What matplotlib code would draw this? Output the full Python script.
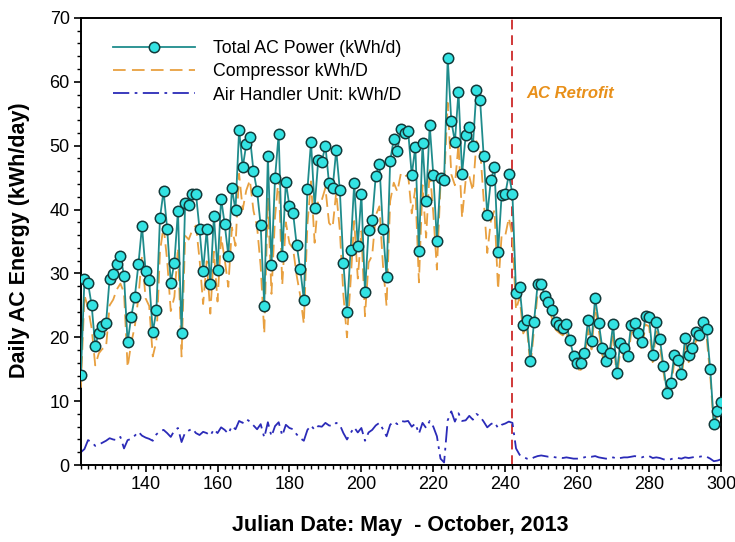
import matplotlib
matplotlib.use("Agg")
import matplotlib.pyplot as plt
from matplotlib.ticker import MultipleLocator

plt.rcParams['font.family'] = ['Liberation Sans', 'DejaVu Sans']

start_day = 122
total_ac = [
    14.1, 29.1, 28.5, 25.0, 18.6, 20.7, 21.7, 22.2, 29.2, 29.9,
    31.4, 32.8, 29.6, 19.2, 23.2, 26.3, 31.4, 37.4, 30.4, 29.0,
    20.8, 24.2, 38.7, 42.9, 37.0, 28.5, 31.7, 39.8, 20.6, 41.0,
    40.7, 42.5, 42.5, 36.9, 30.4, 36.9, 28.3, 39.0, 30.6, 41.7,
    37.7, 32.8, 43.3, 39.9, 52.5, 46.6, 50.2, 51.4, 46.0, 42.9,
    37.5, 24.9, 48.4, 31.3, 45.0, 51.8, 32.8, 44.3, 40.5, 39.5,
    34.5, 30.7, 25.9, 43.2, 50.6, 40.3, 47.7, 47.5, 50.0, 44.1,
    43.3, 49.3, 43.1, 31.6, 24.0, 33.7, 44.1, 34.3, 42.4, 27.1,
    36.8, 38.3, 45.3, 47.1, 36.9, 29.4, 47.6, 51.0, 49.2, 52.6,
    52.0, 52.3, 45.4, 49.8, 33.5, 50.4, 41.4, 53.2, 45.4, 35.1,
    45.0, 44.6, 63.7, 53.9, 50.6, 58.4, 45.6, 51.6, 52.9, 50.0,
    58.7, 57.2, 48.4, 39.1, 44.6, 46.6, 33.3, 42.3, 42.4, 45.5,
    42.4, 26.9, 27.9, 21.9, 22.7, 16.3, 22.4, 28.3, 28.4, 26.5,
    25.6, 24.3, 22.4, 21.9, 21.4, 22.1, 19.5, 17.1, 16.0, 16.0,
    17.5, 22.7, 19.4, 26.2, 22.3, 18.3, 16.3, 17.5, 22.1, 14.4,
    19.1, 18.3, 17.0, 22.0, 22.3, 20.7, 19.2, 23.4, 23.1, 17.2,
    22.4, 19.7, 15.5, 11.2, 12.8, 17.2, 16.4, 14.3, 19.9, 17.2,
    18.3, 20.8, 20.3, 22.4, 21.3, 15.0, 6.5, 8.5, 9.8,
]
compressor = [
    12.1, 26.6, 24.6, 21.4, 15.6, 17.5, 18.2, 18.4, 25.0, 25.9,
    27.5, 28.4, 27.0, 15.3, 19.1, 21.7, 26.2, 32.8, 26.1, 24.9,
    17.0, 19.4, 33.4, 37.4, 32.0, 24.1, 26.3, 34.0, 17.0, 35.9,
    35.3, 36.8, 37.5, 32.2, 25.2, 31.9, 23.7, 33.4, 25.6, 35.8,
    32.2, 27.9, 37.2, 34.3, 45.6, 40.0, 43.0, 44.6, 39.8, 37.3,
    31.1, 20.6, 41.7, 26.8, 38.9, 45.1, 28.2, 38.0, 34.7, 33.9,
    29.7, 26.5, 22.1, 37.7, 44.4, 34.8, 41.6, 41.5, 43.4, 37.9,
    37.2, 42.7, 36.8, 26.6, 20.0, 28.7, 38.2, 29.2, 36.6, 23.3,
    31.7, 32.8, 39.1, 40.5, 31.3, 24.9, 41.3, 44.2, 42.8, 45.7,
    45.2, 45.4, 39.4, 43.3, 28.6, 43.8, 35.6, 46.3, 39.4, 30.6,
    44.0, 44.2, 56.7, 45.5, 43.8, 50.3, 38.7, 44.6, 45.2, 42.9,
    50.7, 49.6, 41.6, 33.2, 38.2, 39.9, 27.5, 36.0, 35.9, 38.7,
    35.8, 24.3, 26.3, 20.6, 21.7, 15.4, 21.2, 26.9, 26.9, 25.1,
    24.3, 23.0, 21.2, 20.7, 20.3, 20.9, 18.4, 16.1, 15.0, 14.9,
    16.3, 21.3, 18.1, 24.8, 21.1, 17.2, 15.3, 16.5, 20.9, 13.4,
    18.0, 17.1, 15.8, 20.7, 20.9, 19.4, 18.0, 22.0, 21.7, 16.1,
    21.2, 18.6, 14.6, 10.4, 11.9, 16.1, 15.3, 13.3, 18.7, 16.1,
    17.1, 19.5, 19.0, 21.0, 20.0, 14.0, 5.9, 7.8, 8.9,
]
air_handler = [
    2.0, 2.5, 3.9, 3.6, 3.0, 3.2, 3.5, 3.8, 4.2, 4.0,
    3.9, 4.4, 2.6, 3.9, 4.1, 4.6, 5.2, 4.6, 4.3, 4.1,
    3.8, 4.8, 5.3, 5.5, 5.0, 4.4, 5.4, 5.8, 3.6, 5.1,
    5.4, 5.7, 5.0, 4.7, 5.2, 5.0, 4.6, 5.6, 5.0, 5.9,
    5.5, 4.9, 6.1, 5.6, 6.9, 6.6, 7.2, 6.8, 6.2, 5.6,
    6.4, 4.3, 6.7, 4.5, 6.1, 6.7, 4.6, 6.3, 5.8, 5.6,
    4.8, 4.2, 3.8, 5.5, 6.2, 5.5, 6.1, 6.0, 6.6, 6.2,
    6.1, 6.6, 6.3, 5.0, 4.0, 5.0, 5.9, 5.1, 5.8, 3.8,
    5.1, 5.5, 6.2, 6.6, 5.6, 4.5, 6.3, 6.8, 6.4, 6.9,
    6.8, 6.9, 6.0, 6.5, 4.9, 6.6, 5.8, 6.9, 6.0, 4.5,
    1.0, 0.4, 7.0, 8.4, 6.8, 8.1, 6.9, 7.0, 7.7, 7.1,
    8.0, 7.6, 6.8, 5.9, 6.4, 6.7, 5.8, 6.3, 6.5, 6.8,
    6.6, 2.6, 1.6, 1.3, 1.0, 0.9, 1.2, 1.4, 1.5, 1.4,
    1.3, 1.3, 1.2, 1.2, 1.1, 1.2, 1.1, 1.0, 1.0, 1.1,
    1.2, 1.4, 1.3, 1.4, 1.2, 1.1, 1.0, 1.0, 1.2, 1.0,
    1.1, 1.2, 1.2, 1.3, 1.4, 1.3, 1.2, 1.4, 1.4, 1.1,
    1.2, 1.1, 0.9, 0.8, 0.9, 1.1, 1.1, 1.0, 1.2, 1.1,
    1.2, 1.3, 1.3, 1.4, 1.3, 1.0, 0.6, 0.7, 0.9,
]
days = list(range(start_day, start_day + len(total_ac)))
retrofit_day = 242

fig = plt.figure(figsize=(7.35, 5.42), dpi=100)
ax = fig.add_axes([0.110, 0.142, 0.871, 0.825])

ax.plot(days, air_handler, color='#2b2bb8', lw=1.3, ls=(0, (9, 3, 1.5, 3)),
        label='Air Handler Unit: kWh/D', zorder=2)
ax.plot(days, compressor, color='#e8a040', lw=1.3, ls=(0, (7, 3.5)),
        label='Compressor kWh/D', zorder=3)
ax.plot(days, total_ac, color='#1f8c8c', lw=1.3, marker='o', markersize=7.5,
        markerfacecolor='#33e3e3', markeredgecolor='#123a3a', markeredgewidth=1.1,
        label='Total AC Power (kWh/d)', zorder=4)

ax.axvline(retrofit_day, color='#d03838', lw=1.4, ls=(0, (5, 3)), zorder=1)
ax.text(retrofit_day + 4.0, 58.1, 'AC Retrofit', color='#e8901a', fontsize=12,
        fontweight='bold', fontstyle='italic', va='center', ha='left')

ax.set_xlim(122, 300)
ax.set_ylim(0, 70)
ax.xaxis.set_major_locator(MultipleLocator(20))
ax.xaxis.set_minor_locator(MultipleLocator(2))
ax.yaxis.set_major_locator(MultipleLocator(10))
ax.yaxis.set_minor_locator(MultipleLocator(2))
ax.tick_params(axis='both', which='major', direction='out', length=5, width=1.2,
               labelsize=13, pad=3)
ax.tick_params(axis='both', which='minor', direction='out', length=3, width=1.0)
for s in ax.spines.values():
    s.set_linewidth(1.4)

ax.set_xlabel('Julian Date: May  - October, 2013', fontsize=15.5, fontweight='bold')
ax.set_ylabel('Daily AC Energy (kWh/day)', fontsize=15.5, fontweight='bold')
ax.xaxis.set_label_coords(0.499, -0.112)
ax.yaxis.set_label_coords(-0.079, 0.503)

handles, labels = ax.get_legend_handles_labels()
order = [2, 1, 0]
ax.legend([handles[i] for i in order], [labels[i] for i in order],
          loc='upper left', bbox_to_anchor=(0.0395, 0.966), frameon=False,
          fontsize=12.8, handlelength=4.6, handletextpad=1.0, labelspacing=0.35,
          borderaxespad=0)

fig.savefig('out.png', dpi=100)
